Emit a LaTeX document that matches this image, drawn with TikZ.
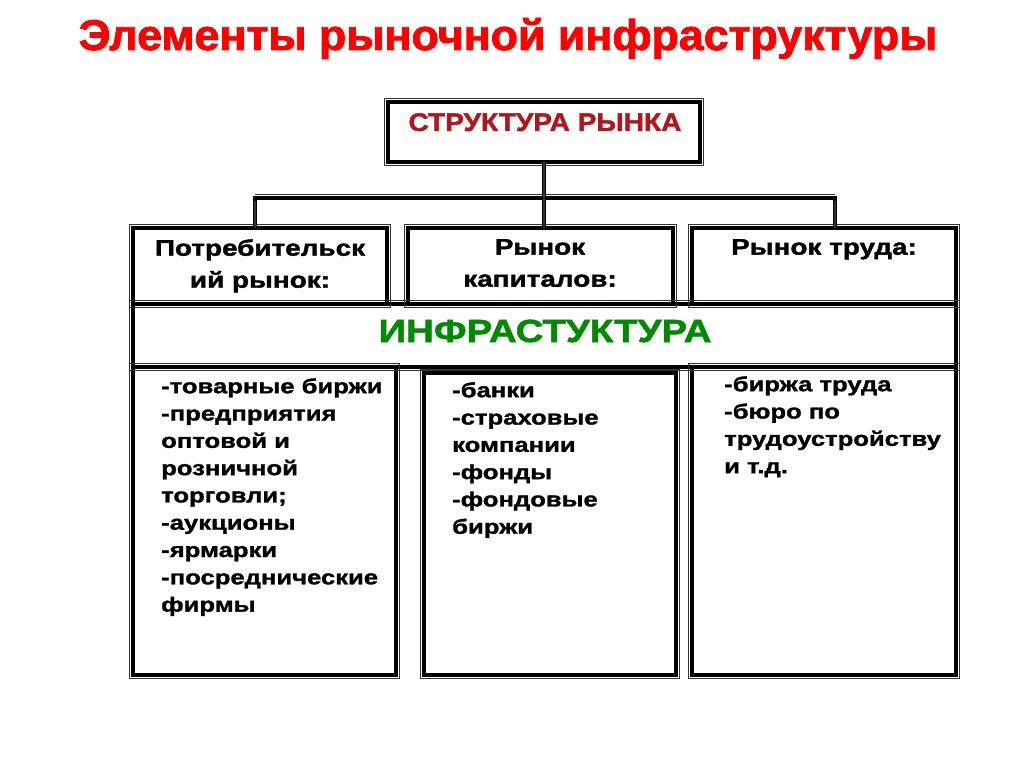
\documentclass[tikz,border=0pt]{standalone}
\usepackage{fontspec}
\setmainfont{Liberation Sans}
\newfontfamily\titlefont[FakeStretch=1.04,FakeBold=2]{Liberation Sans}
\newfontfamily\topfont[FakeStretch=1.1,FakeBold=1.6]{Liberation Sans}
\newfontfamily\headfont[FakeStretch=1.24,FakeBold=1.6]{Liberation Sans}
\newfontfamily\infrafont[FakeStretch=1.2,FakeBold=1.6]{Liberation Sans}
\newfontfamily\bodyfont[FakeStretch=1.25,FakeBold=1.4]{Liberation Sans}
\definecolor{titlered}{HTML}{FF0000}
\definecolor{darkred}{HTML}{B0161B}
\definecolor{infragreen}{HTML}{008A00}
\begin{document}
\begin{tikzpicture}[x=1pt,y=-1pt,
  box/.style={draw=black, line width=4pt, inner sep=0pt, outer sep=0pt, fill=none},
  thinline/.style={draw=black!80, line width=1.1pt},
  conn/.style={draw=black, line width=3.5pt},
  connthin/.style={draw=black!80, line width=1.1pt},
  head/.style={font=\headfont\bfseries\fontsize{22.5}{32}\selectfont, align=center, anchor=north, inner sep=0pt},
  body/.style={font=\bodyfont\bfseries\fontsize{20.5}{27.3}\selectfont, align=left, anchor=north west, inner sep=0pt}
]
\useasboundingbox (0,0) rectangle (1024,767);
% title
\node[font=\titlefont\bfseries\fontsize{43}{50}\selectfont, text=titlered, anchor=base] (title) at (508,50) {Элементы рыночной инфраструктуры};
% boxes
\node[box, minimum width=312pt, minimum height=60pt] (top) at (544,132) {};
\node[box, minimum width=254pt, minimum height=76pt] (rowL) at (260,266) {};
\node[box, minimum width=265pt, minimum height=76pt] (rowM) at (540.5,266) {};
\node[box, minimum width=264pt, minimum height=76pt] (rowR) at (824,266) {};
\node[box, minimum width=823pt, minimum height=63pt] (infra) at (544.5,335.5) {};
\node[box, minimum width=263pt, minimum height=308pt] (botL) at (264.5,521) {};
\node[box, minimum width=252pt, minimum height=302pt] (botM) at (550,524) {};
\node[box, minimum width=264pt, minimum height=308pt] (botR) at (824,521) {};
\foreach \n in {top,rowL,rowM,rowR,infra,botL,botM,botR}
  \draw[thinline] ([shift={(-3.5,-3.5)}]\n.north west) rectangle ([shift={(3.5,3.5)}]\n.south east);
% connectors
\coordinate (barL) at (255,198);
\coordinate (barR) at (835,198);
\draw[conn] (barL |- rowL.north) -- (barL) -- (barR) -- (barR |- rowR.north);
\draw[conn] (top.south) -- (top.south |- rowM.north);
\begin{scope}[xshift=3.5pt]
\draw[connthin] (barL |- rowL.north) -- ([yshift=-3.5pt]barL);
\draw[connthin] (barR |- rowR.north) -- ([yshift=-3.5pt]barR);
\draw[connthin] (top.south) -- (top.south |- rowM.north);
\end{scope}
\draw[connthin] ([yshift=3.5pt]barL) -- ([yshift=3.5pt]barR);
% texts
\node[font=\topfont\bfseries\fontsize{25.5}{28}\selectfont, text=darkred, anchor=base] (toptext) at (545,131) {СТРУКТУРА РЫНКА};
\node[head] (tL) at (260,239) {Потребительск\\ий рынок:};
\node[head] (tM) at (540,239) {Рынок\\капиталов:};
\node[head] (tR) at (824,239) {Рынок труда:};
\node[font=\infrafont\bfseries\fontsize{32}{36}\selectfont, text=infragreen, anchor=base] (infratext) at (545,342) {ИНФРАСТУКТУРА};
\node[body] (bL) at (161,378) {-товарные биржи\\-предприятия\\оптовой и\\розничной\\торговли;\\-аукционы\\-ярмарки\\-посреднические\\фирмы};
\node[body] (bM) at (452,382) {-банки\\-страховые\\компании\\-фонды\\-фондовые\\биржи};
\node[body] (bR) at (724,376) {-биржа труда\\-бюро по\\трудоустройству\\и т.д.};
\end{tikzpicture}
\end{document}
